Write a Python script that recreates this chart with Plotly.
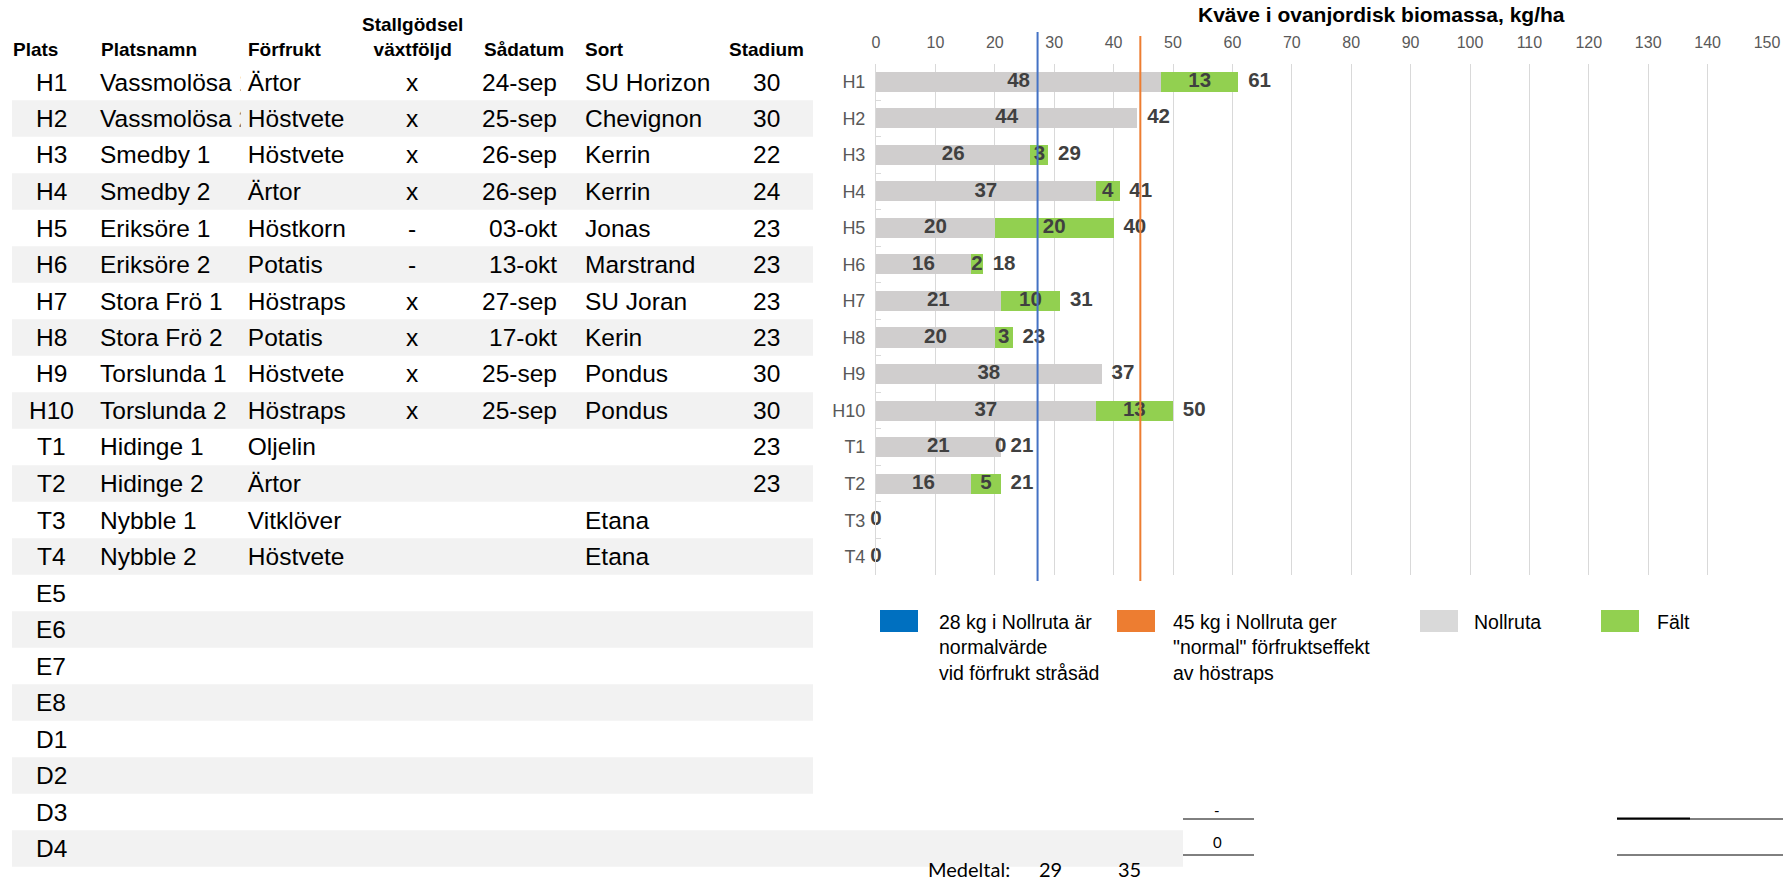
import plotly.graph_objects as go

W, H = 1783, 881

# ---------------- table data ----------------
plats = ["H1", "H2", "H3", "H4", "H5", "H6", "H7", "H8", "H9", "H10",
         "T1", "T2", "T3", "T4", "E5", "E6", "E7", "E8", "D1", "D2", "D3", "D4"]
platsnamn = ["Vassmolösa 1", "Vassmolösa 2", "Smedby 1", "Smedby 2", "Eriksöre 1", "Eriksöre 2",
             "Stora Frö 1", "Stora Frö 2", "Torslunda 1", "Torslunda 2", "Hidinge 1", "Hidinge 2",
             "Nybble 1", "Nybble 2"] + [""] * 8
forfrukt = ["Ärtor", "Höstvete", "Höstvete", "Ärtor", "Höstkorn", "Potatis", "Höstraps", "Potatis",
            "Höstvete", "Höstraps", "Oljelin", "Ärtor", "Vitklöver", "Höstvete"] + [""] * 8
stallgodsel = ["x", "x", "x", "x", "-", "-", "x", "x", "x", "x", "", "", "", ""] + [""] * 8
sadatum = ["24-sep", "25-sep", "26-sep", "26-sep", "03-okt", "13-okt", "27-sep", "17-okt",
           "25-sep", "25-sep", "", "", "", ""] + [""] * 8
sort_ = ["SU Horizon", "Chevignon", "Kerrin", "Kerrin", "Jonas", "Marstrand", "SU Joran", "Kerin",
         "Pondus", "Pondus", "", "", "Etana", "Etana"] + [""] * 8
stadium = ["30", "30", "22", "24", "23", "23", "23", "23", "30", "30", "23", "23", "", ""] + [""] * 8
headers = ["Plats", "Platsnamn", "Förfrukt", "Stallgödsel<br>växtföljd", "Sådatum", "Sort", "Stadium"]

# ---------------- chart data ----------------
categories = plats[:14]
nollruta = [48, 44, 26, 37, 20, 16, 21, 20, 38, 37, 21, 16, 0, 0]
falt = [13, None, 3, 4, 20, 2, 10, 3, None, 13, 0, 5, None, None]
total_labels = [61, 42, 29, 41, 40, 18, 31, 23, 37, 50, 21, 21, None, None]
ref_lines = [27.2, 44.5]
ref_labels = ["28 kg i Nollruta är<br>normalvärde<br>vid förfrukt stråsäd",
              "45 kg i Nollruta ger<br>\"normal\" förfruktseffekt<br>av höstraps"]
x_ticks = list(range(0, 151, 10))
chart_title = "Kväve i ovanjordisk biomassa, kg/ha"
medeltal = [29, 35]

FONT = "Liberation Sans, Arial, sans-serif"
GRAY_BAR = "#d0cece"
GREEN = "#92d050"
LABEL_C = "#404040"


def px(x):
    return x / W


def py(y):
    return 1 - y / H


ROW0, ROWH = 82, 36.5


def row_y(i):
    return ROW0 + ROWH * i


fig = go.Figure()

# bars
fig.add_trace(go.Bar(y=categories, x=nollruta, orientation="h", marker=dict(color=GRAY_BAR, line_width=0),
                     name="Nollruta", showlegend=False, hoverinfo="skip"))
fig.add_trace(go.Bar(y=categories, x=[v if v is not None else 0 for v in falt], orientation="h",
                     marker=dict(color=GREEN, line_width=0), name="Fält", showlegend=False,
                     hoverinfo="skip"))

lab_font = dict(family=FONT, size=20.5, color=LABEL_C, weight="bold")
# gray labels
fig.add_trace(go.Scatter(y=categories, x=[n / 2 for n in nollruta], mode="text",
                         text=[str(n) for n in nollruta], textposition="middle center",
                         textfont=lab_font, showlegend=False, cliponaxis=False, hoverinfo="skip"))
# green labels
gy, gx, gt = [], [], []
for c, n, f in zip(categories, nollruta, falt):
    if f is not None:
        gy.append(c); gx.append(n + f / 2); gt.append(str(f))
fig.add_trace(go.Scatter(y=gy, x=gx, mode="text", text=gt, textposition="middle center",
                         textfont=lab_font, showlegend=False, cliponaxis=False, hoverinfo="skip"))
# total labels
ty, tx, tt = [], [], []
for c, n, f, t in zip(categories, nollruta, falt, total_labels):
    if t is not None:
        ty.append(c); tx.append(n + (f or 0)); tt.append("\u00a0\u2009" + str(t))
fig.add_trace(go.Scatter(y=ty, x=tx, mode="text", text=tt, textposition="middle right",
                         textfont=lab_font, showlegend=False, cliponaxis=False, hoverinfo="skip"))

shapes = []
annotations = []

# reference lines
for val, col, y0 in zip(ref_lines, ["#4472c4", "#ed7d31"], [32, 36]):
    shapes.append(dict(type="line", xref="x", yref="paper", x0=val, x1=val,
                       y0=py(y0), y1=py(581), line=dict(color=col, width=2), layer="above"))

# table bands
for i in range(len(plats)):
    if i % 2 == 1:
        x1 = 1183 if plats[i] == "D4" else 813
        shapes.append(dict(type="rect", xref="paper", yref="paper", x0=px(12), x1=px(x1),
                           y0=py(row_y(i) + ROWH / 2), y1=py(row_y(i) - ROWH / 2),
                           fillcolor="#f2f2f2", line_width=0, layer="below"))

# headers
hfont = dict(family=FONT, size=19, color="#000000")
hdr_pos = [(11, "left"), (99, "left"), (246, "left"), (412, "center"), (524, "center"),
           (583, "left"), (766, "center")]
for h, (x, anc) in zip(headers, hdr_pos):
    if "<br>" in h:
        annotations.append(dict(x=px(x), y=py(37), xref="paper", yref="paper", text="<b>" + h + "</b>",
                                showarrow=False, xanchor="center", yanchor="middle", font=hfont,
                                align="center"))
    else:
        annotations.append(dict(x=px(x), y=py(49), xref="paper", yref="paper", text="<b>" + h + "</b>",
                                showarrow=False, xanchor=anc, yanchor="middle", font=hfont))

dfont = dict(family=FONT, size=24.5, color="#000000")


def cell(text, x, i, anc, **kw):
    if text == "":
        return
    annotations.append(dict(x=px(x), y=py(row_y(i)), xref="paper", yref="paper", text=text,
                            showarrow=False, xanchor=anc, yanchor="middle", font=dfont, **kw))


for i in range(len(plats)):
    bg = "#f2f2f2" if i % 2 == 1 else "#ffffff"
    cell(plats[i], 51, i, "center")
    cell(platsnamn[i], 98, i, "left")
    if forfrukt[i]:
        cell("\u00a0" + forfrukt[i], 240, i, "left", bgcolor=bg, borderpad=0)
    cell(stallgodsel[i], 412, i, "center")
    cell(sadatum[i], 559, i, "right")
    cell(sort_[i], 583, i, "left")
    cell(stadium[i], 766, i, "center")

# chart title
annotations.append(dict(x=px(1381), y=py(15), xref="paper", yref="paper",
                        text="<b>" + chart_title + "</b>", showarrow=False, xanchor="center",
                        yanchor="middle", font=dict(family=FONT, size=21, color="#000000")))

# legend
leg_font = dict(family=FONT, size=19.5, color="#000000")
legend_items = [("#0070c0", ref_labels[0], 880, 937),
                ("#ed7d31", ref_labels[1], 1117, 1171),
                ("#d9d9d9", "Nollruta", 1420, 1472),
                ("#92d050", "Fält", 1601, 1655)]
for col, txt, x0, tx0 in legend_items:
    shapes.append(dict(type="rect", xref="paper", yref="paper", x0=px(x0), x1=px(x0 + 38),
                       y0=py(632), y1=py(610), fillcolor=col, line_width=0))
    annotations.append(dict(x=px(tx0), y=py(609), xref="paper", yref="paper", text=txt,
                            showarrow=False, xanchor="left", yanchor="top", align="left",
                            font=leg_font))

# lower right fragments
cfont = dict(family="Lato, Carlito, sans-serif", size=15, color="#000000")
annotations.append(dict(x=px(1217), y=py(810), xref="paper", yref="paper", text="-",
                        showarrow=False, font=cfont, xanchor="center", yanchor="middle"))
annotations.append(dict(x=px(1217), y=py(842), xref="paper", yref="paper", text="0",
                        showarrow=False, font=cfont, xanchor="center", yanchor="middle"))
for yy in (819, 855):
    shapes.append(dict(type="line", xref="paper", yref="paper", x0=px(1183), x1=px(1254),
                       y0=py(yy), y1=py(yy), line=dict(color="#000000", width=1)))
    shapes.append(dict(type="line", xref="paper", yref="paper", x0=px(1617), x1=px(1783),
                       y0=py(yy), y1=py(yy), line=dict(color="#000000", width=1)))
shapes.append(dict(type="line", xref="paper", yref="paper", x0=px(1617), x1=px(1690),
                   y0=py(818.5), y1=py(818.5), line=dict(color="#000000", width=2)))
mfont = dict(family="Lato, Carlito, sans-serif", size=20, color="#000000")
annotations.append(dict(x=px(1012), y=py(869), xref="paper", yref="paper", text="Medeltal:",
                        showarrow=False, xanchor="right", yanchor="middle", font=mfont))
for v, xx in zip(medeltal, [1050, 1129]):
    annotations.append(dict(x=px(xx), y=py(869), xref="paper", yref="paper", text=str(v),
                            showarrow=False, xanchor="center", yanchor="middle", font=mfont))

fig.update_layout(
    template="none",
    width=W, height=H, margin=dict(l=0, r=0, t=0, b=0, pad=0, autoexpand=False), autosize=False,
    paper_bgcolor="white", plot_bgcolor="white",
    barmode="stack", bargap=0.45, showlegend=False,
    shapes=shapes, annotations=annotations,
    xaxis=dict(domain=[px(876), px(1767)], range=[0, 150], side="top", tickvals=x_ticks,
               showgrid=True, gridcolor="#d9d9d9", gridwidth=1, zeroline=False, showline=False,
               automargin=False,
               tickfont=dict(family=FONT, size=16, color="#595959"), ticks="",
               ticklabelstandoff=11, fixedrange=True),
    yaxis=dict(domain=[py(575), py(63.5)], range=[len(categories) - 0.5, -0.5], type="category",
               categoryorder="array", categoryarray=categories,
               showline=True, linecolor="#d9d9d9", linewidth=1, automargin=False, zeroline=False,
               ticks="inside", ticklen=5, tickcolor="#d9d9d9", tickson="boundaries",
               tickfont=dict(family=FONT, size=18, color="#595959"), ticklabelstandoff=6,
               showgrid=False, fixedrange=True),
)

fig.write_html(
    "out.html",
    config={"responsive": False, "displayModeBar": False},
    post_script="document.body.style.margin='0';document.body.style.padding='0';"
                "document.body.style.overflow='hidden';"
                "document.documentElement.style.overflow='hidden';",
)
